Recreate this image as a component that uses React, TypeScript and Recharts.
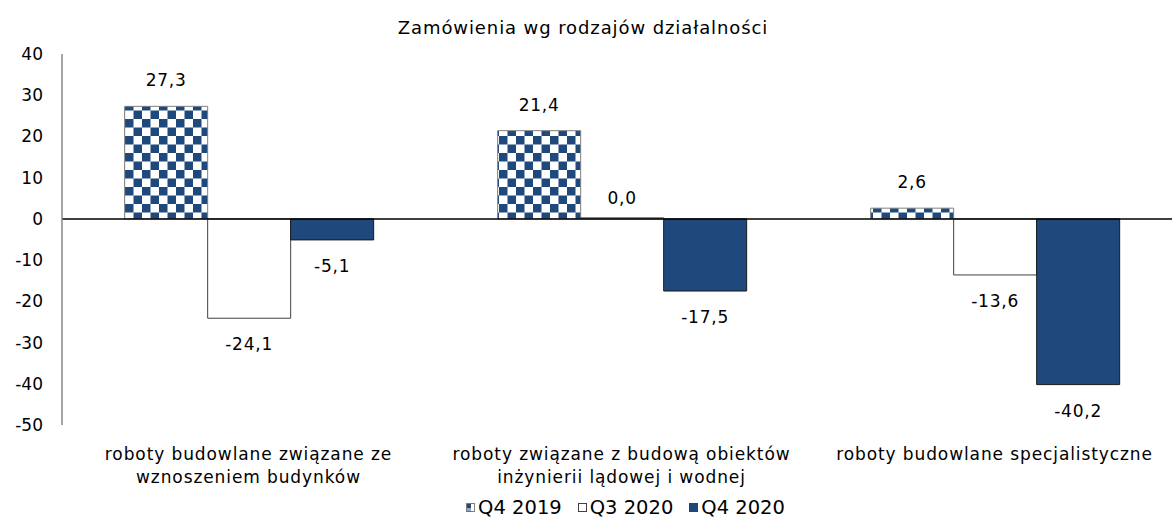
import React from 'react';
import { BarChart, Bar, XAxis, YAxis, ReferenceLine, LabelList, Legend } from 'recharts';

const categories = [
  'roboty budowlane związane ze\nwznoszeniem budynków',
  'roboty związane z budową obiektów\ninżynierii lądowej i wodnej',
  'roboty budowlane specjalistyczne',
];
const q4_2019 = [27.3, 21.4, 2.6];
const q3_2020 = [-24.1, 0.0, -13.6];
const q4_2020 = [-5.1, -17.5, -40.2];
const yTicks = [40, 30, 20, 10, 0, -10, -20, -30, -40, -50];
const seriesNames = ['Q4 2019', 'Q3 2020', 'Q4 2020'];

const data = categories.map((c, i) => ({
  name: c,
  a: q4_2019[i],
  b: q3_2020[i],
  c: q4_2020[i],
}));

const FONT = '"DejaVu Sans", sans-serif';
const BLUE = '#1F497D';

const fmt = (v: number) => v.toFixed(1).replace('.', ',');

const CategoryTick = (props: any) => {
  const { x, y, payload } = props;
  const lines = String(payload.value).split('\n');
  return (
    <g transform={`translate(${x},${y})`}>
      {lines.map((l, i) => (
        <text key={i} x={0} y={27 + i * 23} textAnchor="middle" fontFamily={FONT} fontSize={17} letterSpacing={0.9} fill="#000">
          {l}
        </text>
      ))}
    </g>
  );
};

const ValueLabel = (props: any) => {
  const { x, y, width, height, value } = props;
  const top = Math.min(y, y + height);
  const bottom = Math.max(y, y + height);
  let ty: number;
  if (value === 0) {
    ty = bottom - 21;
  } else if (value > 0) {
    ty = top - 26;
  } else {
    ty = bottom + 26;
  }
  return (
    <text x={x + width / 2} y={ty} dy="0.35em" textAnchor="middle" fontFamily={FONT} fontSize={17} letterSpacing={0.8} fill="#000">
      {fmt(value)}
    </text>
  );
};

const LegendContent = () => {
  return (
    <div style={{ height: 24, display: 'flex', justifyContent: 'center', alignItems: 'center', fontFamily: FONT, fontSize: 19.5, paddingLeft: 70 }}>
      {seriesNames.map((n, i) => (
        <span key={n} style={{ display: 'flex', alignItems: 'center', marginRight: i === 2 ? 0 : 16 }}>
          <svg width={9} height={9} style={{ marginRight: 3 }}>
            {i === 0 && (
              <>
                <rect x={0.5} y={0.5} width={8} height={8} fill="#fff" stroke="#7f7f7f" />
                <rect x={1} y={1} width={4} height={4} fill={BLUE} />
                <rect x={1} y={5} width={4} height={3.5} fill={BLUE} opacity={0.5} />
              </>
            )}
            {i === 1 && <rect x={0.5} y={0.5} width={8} height={8} fill="#fff" stroke="#404040" />}
            {i === 2 && <rect x={0.5} y={0.5} width={8} height={8} fill={BLUE} stroke="#404040" />}
          </svg>
          <span>{n}</span>
        </span>
      ))}
    </div>
  );
};

export default function App() {
  return (
    <div style={{ position: 'absolute', left: 0, top: 0, width: 1172, height: 519, overflow: 'hidden', background: '#fff' }}>
      <BarChart
        width={1181}
        height={519}
        data={data}
        margin={{ top: 54, right: 0, bottom: 0, left: 0 }}
        barCategoryGap="16.8%"
        barGap={0}
      >
        <defs>
          <pattern id="checker" patternUnits="userSpaceOnUse" x={125} y={0} width={17} height={17}>
            <rect x={0} y={0} width={17} height={17} fill="#fff" />
            <rect x={0} y={0} width={8.5} height={8.5} fill={BLUE} />
            <rect x={8.5} y={8.5} width={8.5} height={8.5} fill={BLUE} />
          </pattern>
        </defs>
        <text x={583} y={28} dy="0.35em" textAnchor="middle" fontFamily={FONT} fontSize={18} letterSpacing={0.9} fill="#000">
          Zamówienia wg rodzajów działalności
        </text>
        <XAxis dataKey="name" axisLine={false} tickLine={false} height={70} tick={<CategoryTick />} interval={0} />
        <YAxis
          domain={[-50, 40]}
          ticks={yTicks}
          width={62}
          axisLine={{ stroke: '#868686', strokeWidth: 1.5 }}
          tickLine={false}
          tickMargin={13}
          tick={{ fontFamily: FONT, fontSize: 17, fill: '#000' }}
          interval={0}
        />
        <Legend verticalAlign="bottom" content={<LegendContent />} />
        <Bar dataKey="a" name={seriesNames[0]} fill="url(#checker)" stroke="#7f7f7f" strokeWidth={1} isAnimationActive={false}>
          <LabelList dataKey="a" content={ValueLabel} />
        </Bar>
        <Bar
          dataKey="b"
          name={seriesNames[1]}
          fill="#fff"
          stroke="#404040"
          strokeWidth={1}
          minPointSize={(v: number) => (v === 0 ? 1 : 0)}
          isAnimationActive={false}
        >
          <LabelList dataKey="b" content={ValueLabel} />
        </Bar>
        <Bar dataKey="c" name={seriesNames[2]} fill={BLUE} stroke="#1a1a1a" strokeWidth={1} isAnimationActive={false}>
          <LabelList dataKey="c" content={ValueLabel} />
        </Bar>
        <ReferenceLine y={0} stroke="#000" strokeWidth={1.5} />
      </BarChart>
    </div>
  );
}
